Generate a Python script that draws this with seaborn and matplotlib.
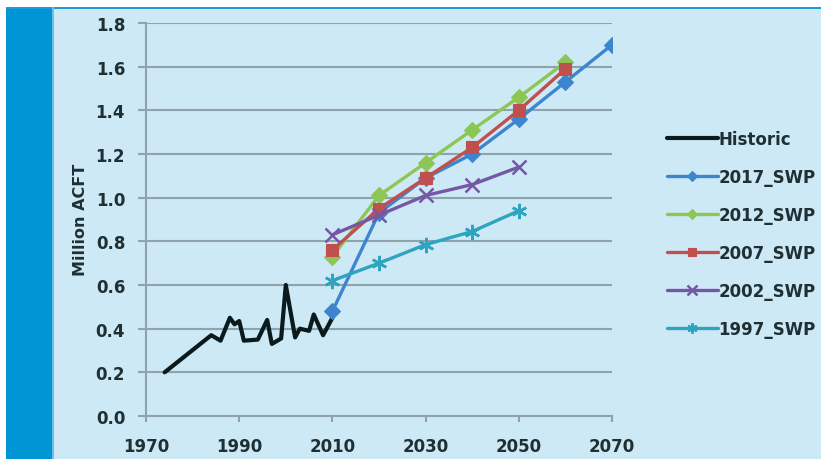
import matplotlib
matplotlib.use("Agg")
import matplotlib.pyplot as plt
from matplotlib.patches import Rectangle
import pandas as pd
import seaborn as sns

# Historic demand (million acre-feet)
hist_years = [1974, 1984, 1986, 1988, 1989, 1990, 1991, 1994, 1996, 1997,
              1999, 2000, 2002, 2003, 2005, 2006, 2008, 2010]
hist_values = [0.20, 0.37, 0.345, 0.45, 0.42, 0.435, 0.345, 0.35, 0.44, 0.33,
               0.355, 0.60, 0.36, 0.40, 0.39, 0.465, 0.37, 0.45]

# Projections from each State Water Plan
plan_names = ["2017_SWP", "2012_SWP", "2007_SWP", "2002_SWP", "1997_SWP"]
years_2017 = [2010, 2020, 2030, 2040, 2050, 2060, 2070]
vals_2017 = [0.48, 0.93, 1.09, 1.20, 1.36, 1.53, 1.70]
years_2012 = [2010, 2020, 2030, 2040, 2050, 2060]
vals_2012 = [0.73, 1.01, 1.16, 1.31, 1.46, 1.62]
years_2007 = [2010, 2020, 2030, 2040, 2050, 2060]
vals_2007 = [0.76, 0.95, 1.09, 1.23, 1.40, 1.59]
years_2002 = [2010, 2020, 2030, 2040, 2050]
vals_2002 = [0.83, 0.92, 1.01, 1.06, 1.14]
years_1997 = [2010, 2020, 2030, 2040, 2050]
vals_1997 = [0.62, 0.70, 0.785, 0.845, 0.94]

x_ticks = [1970, 1990, 2010, 2030, 2050, 2070]
y_ticks = [0.0, 0.2, 0.4, 0.6, 0.8, 1.0, 1.2, 1.4, 1.6, 1.8]

plan_years = [years_2017, years_2012, years_2007, years_2002, years_1997]
plan_vals = [vals_2017, vals_2012, vals_2007, vals_2002, vals_1997]
plan_colors = ["#3d86cf", "#8cc655", "#c0504d", "#7557a6", "#2ea4bf"]
plan_markers = ["D", "D", "s", "x", (6, 2, 0)]
plan_msize = [8, 8, 8, 10, 11]

BG = "#cde9f5"
GRID = "#8ea3ab"
TEXT = "#1f3034"

sns.set_theme(style="white")
plt.rcParams["font.family"] = ["DejaVu Sans"]

fig = plt.figure(figsize=(8.21, 4.60), dpi=100, facecolor="white")
W, H = 821, 460

# Page background: white margin, blue side band, light panel
fig.patches.append(Rectangle((6 / W, 0), 1 - 6 / W, 1 - 8 / H, transform=fig.transFigure,
                             facecolor=BG, edgecolor="none", zorder=-3))
fig.patches.append(Rectangle((6 / W, 0), 46 / W, 1 - 8 / H, transform=fig.transFigure,
                             facecolor="#0096d6", edgecolor="none", zorder=-2))
fig.patches.append(Rectangle((6 / W, 1 - 10 / H), 1 - 6 / W, 2 / H, transform=fig.transFigure,
                             facecolor="#1c9bd8", edgecolor="none", zorder=-2))
fig.patches.append(Rectangle((52 / W, 0), 1.5 / W, 1 - 8 / H, transform=fig.transFigure,
                             facecolor="#6cc0e6", edgecolor="none", zorder=-2))

ax = fig.add_axes([146 / W, 1 - 417 / H, (612 - 146) / W, (417 - 24) / H])
ax.set_facecolor("none")

hist_df = pd.DataFrame({"year": hist_years, "value": hist_values})
sns.lineplot(data=hist_df, x="year", y="value", ax=ax, color="#0b1a1c",
             linewidth=3.0, label="Historic", zorder=3, estimator=None, sort=False)

for name, yrs, vals, col, mk, ms in zip(plan_names, plan_years, plan_vals,
                                        plan_colors, plan_markers, plan_msize):
    df = pd.DataFrame({"year": yrs, "value": vals})
    sns.lineplot(data=df, x="year", y="value", ax=ax, color=col, linewidth=2.4,
                 marker=mk, markersize=ms, markeredgecolor=col, markerfacecolor=col,
                 markeredgewidth=1.8 if mk in ("x", (6, 2, 0)) else 0.8,
                 label=name, zorder=4, estimator=None)

ax.set_xlim(1970, 2070)
ax.set_ylim(0, 1.8)
ax.set_xticks(x_ticks)
ax.set_yticks(y_ticks)
ax.set_yticklabels([f"{v:.1f}" for v in y_ticks])
ax.set_xlabel("")
ax.set_ylabel("Million ACFT", fontsize=11.5, fontweight="bold", color=TEXT, va="center")
ax.yaxis.set_label_coords((80 - 146) / 466, 0.501)

ax.grid(axis="y", color=GRID, linewidth=1.5, zorder=1)
ax.set_axisbelow(True)
for side in ["top", "right"]:
    ax.spines[side].set_visible(False)
for side in ["left", "bottom"]:
    ax.spines[side].set_color(GRID)
    ax.spines[side].set_linewidth(1.5)
ax.tick_params(axis="y", length=6, width=1.5, color=GRID, labelsize=12,
               labelcolor=TEXT, pad=9, left=True)
ax.tick_params(axis="x", length=4, width=1.5, color=GRID, labelsize=12,
               labelcolor=TEXT, pad=11, bottom=True)
for lab in ax.get_xticklabels() + ax.get_yticklabels():
    lab.set_fontweight("bold")

handles, labels = ax.get_legend_handles_labels()
if ax.legend_:
    ax.legend_.remove()
leg = fig.legend(handles, labels, loc="center left", bbox_to_anchor=(667 / W, 1 - 235 / H),
                 frameon=False, fontsize=12, handlelength=3.05, handletextpad=0.05,
                 labelspacing=1.2, borderpad=0, borderaxespad=0)
for t in leg.get_texts():
    t.set_color(TEXT)
    t.set_fontweight("bold")
# Smaller symbols in the key than on the lines
for h, ms in zip(leg.legend_handles[1:], plan_msize):
    h.set_markersize(ms * 0.65)

fig.savefig("out.png", dpi=100, facecolor="white")
